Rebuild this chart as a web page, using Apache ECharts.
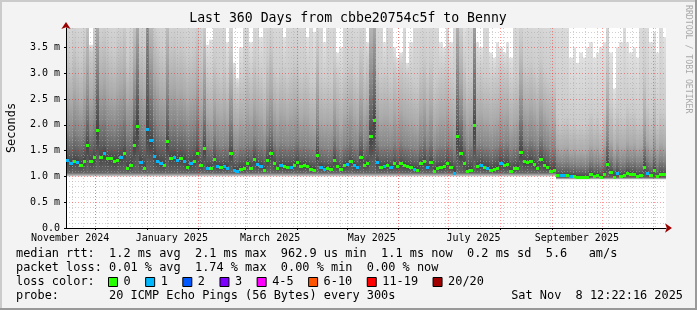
<!DOCTYPE html>
<html><head><meta charset="utf-8">
<script src="https://cdn.jsdelivr.net/npm/echarts@6/dist/echarts.min.js"></script>
<style>html,body{margin:0;padding:0;background:#f3f3f3;}#c{width:697px;height:310px;}</style>
</head><body><div id="c"></div>
<script>
// ---------- data (2-day columns, 360 days) ----------
const startTime = Date.UTC(2024, 10, 13, 12, 22, 16);
const DAY = 86400000;
const spanDays = 360;
const colDays = 2;

const median = [
1.32,1.25,1.30,1.28,1.22,1.30,1.60,1.30,1.37,1.90,
1.38,1.45,1.35,1.35,1.30,1.32,1.37,1.45,1.16,1.22,
1.60,1.97,1.28,1.16,1.92,1.70,1.40,1.30,1.25,1.22,
1.68,1.36,1.38,1.32,1.35,1.30,1.19,1.25,1.30,1.45,
1.22,1.55,1.16,1.16,1.33,1.20,1.18,1.20,1.17,1.45,
1.13,1.11,1.15,1.16,1.25,1.16,1.34,1.24,1.20,1.12,
1.32,1.45,1.26,1.16,1.22,1.20,1.18,1.19,1.23,1.27,
1.20,1.23,1.20,1.15,1.13,1.41,1.19,1.15,1.16,1.15,
1.32,1.20,1.14,1.22,1.24,1.29,1.22,1.18,1.38,1.23,
1.26,1.78,2.09,1.27,1.19,1.20,1.22,1.18,1.25,1.20,
1.25,1.22,1.20,1.18,1.15,1.13,1.25,1.30,1.19,1.28,
1.11,1.17,1.19,1.20,1.26,1.18,1.07,1.78,1.45,1.25,
1.11,1.13,2.00,1.20,1.22,1.18,1.17,1.12,1.15,1.17,
1.26,1.22,1.24,1.10,1.16,1.17,1.48,1.29,1.27,1.30,
1.24,1.16,1.34,1.22,1.18,1.10,1.12,1.03,1.02,1.02,
1.02,1.00,1.01,0.99,0.99,0.99,0.99,1.05,1.00,1.03,
0.99,1.04,1.24,1.08,0.99,1.06,1.01,1.02,1.07,1.05,
1.05,1.01,1.03,1.19,1.06,1.02,1.13,1.00,1.05,1.04];

const lossCount = [
1,1,0,1,0,0,0,0,0,0,
0,1,0,0,0,0,1,0,0,0,
0,0,1,0,1,1,1,1,1,0,
0,0,1,1,0,1,0,1,0,0,
0,0,1,0,0,1,0,1,1,0,
1,1,0,0,0,0,0,1,1,0,
0,0,0,0,1,0,0,1,0,0,
0,0,0,0,0,0,1,1,0,0,
0,0,0,0,1,0,1,1,0,0,
0,0,0,1,0,1,0,1,0,0,
0,0,0,0,1,0,0,0,1,0,
0,0,0,0,0,0,1,0,0,0,
0,0,0,0,1,0,1,0,0,0,
1,0,0,0,0,0,0,0,0,0,
0,0,0,0,0,0,0,0,1,1,
0,1,0,0,0,0,0,0,0,0,
0,0,0,0,0,1,0,0,0,0,
0,0,0,0,1,0,0,0,0,0];

const smokeMin = [
1.00,1.00,1.00,1.00,1.00,1.00,1.00,1.00,1.00,1.00,
1.00,1.00,1.00,1.00,1.00,1.00,1.00,1.00,1.00,1.00,
1.00,1.00,1.00,1.00,1.00,1.00,1.00,1.00,1.00,1.00,
1.00,1.00,1.00,1.00,1.00,1.00,1.00,1.00,1.00,1.00,
1.00,1.00,1.00,1.00,1.00,1.00,1.00,1.00,1.00,1.00,
1.00,1.00,1.00,1.00,1.00,1.00,1.00,1.00,1.00,1.00,
1.00,1.00,1.00,1.00,1.00,1.00,1.00,1.00,1.00,1.00,
1.00,1.00,1.00,1.00,1.00,1.00,1.00,1.00,1.00,1.00,
1.00,1.00,1.00,1.00,1.00,1.00,1.00,1.00,1.00,1.00,
1.00,1.00,1.00,1.00,1.00,1.00,1.00,1.00,1.00,1.00,
1.00,1.00,1.00,1.00,1.00,1.00,1.00,1.00,1.00,1.00,
1.00,1.00,1.00,1.00,1.00,1.00,1.00,1.00,1.00,1.00,
1.00,1.00,1.00,1.00,1.00,1.00,1.00,1.00,1.00,1.00,
1.00,1.00,1.00,1.00,1.00,1.00,1.00,1.00,1.00,1.00,
1.00,1.00,1.00,1.00,1.00,1.00,1.00,0.94,0.94,0.94,
0.94,0.94,0.94,0.94,0.94,0.94,0.94,0.94,0.94,0.94,
0.94,0.94,0.94,0.94,0.94,0.94,0.94,0.94,0.94,0.94,
0.94,0.94,0.94,0.94,0.94,0.94,0.94,0.94,0.94,0.94];

const smokeLow = [
1.07,1.07,1.07,1.07,1.07,1.07,1.07,1.07,1.07,1.07,
1.07,1.07,1.07,1.07,1.07,1.07,1.07,1.07,1.07,1.07,
1.07,1.07,1.07,1.07,1.07,1.07,1.07,1.07,1.07,1.07,
1.07,1.07,1.07,1.07,1.07,1.07,1.07,1.07,1.07,1.07,
1.07,1.07,1.07,1.07,1.07,1.07,1.07,1.07,1.07,1.07,
1.07,1.07,1.07,1.07,1.07,1.07,1.07,1.07,1.07,1.07,
1.07,1.07,1.07,1.07,1.07,1.07,1.07,1.07,1.07,1.07,
1.07,1.07,1.07,1.07,1.07,1.07,1.07,1.07,1.07,1.07,
1.07,1.07,1.07,1.07,1.07,1.07,1.07,1.07,1.07,1.07,
1.07,1.07,1.07,1.07,1.07,1.07,1.07,1.07,1.07,1.07,
1.07,1.07,1.07,1.07,1.07,1.07,1.07,1.07,1.07,1.07,
1.07,1.07,1.07,1.07,1.07,1.07,1.07,1.07,1.07,1.07,
1.07,1.07,1.07,1.07,1.07,1.07,1.07,1.07,1.07,1.07,
1.07,1.07,1.07,1.07,1.07,1.07,1.07,1.07,1.07,1.07,
1.07,1.07,1.07,1.07,1.07,1.07,1.07,0.98,0.98,0.98,
0.98,0.98,0.98,0.98,0.98,0.98,0.98,0.98,0.98,0.98,
0.98,0.98,0.98,0.98,0.98,0.98,0.98,0.98,0.98,0.98,
0.98,0.98,0.98,0.98,0.98,0.98,0.98,0.98,0.98,0.98];

const smoke1 = [
1.45,1.42,1.48,1.45,1.40,1.50,1.80,1.48,1.55,2.30,
1.60,1.62,1.52,1.50,1.48,1.50,1.55,1.62,1.40,1.45,
1.85,2.40,1.50,1.40,2.50,1.95,1.62,1.50,1.45,1.42,
1.90,1.55,1.55,1.50,1.52,1.48,1.40,1.42,1.48,1.62,
1.35,1.75,1.30,1.30,1.45,1.32,1.30,1.32,1.30,1.60,
1.26,1.24,1.28,1.28,1.38,1.30,1.46,1.36,1.32,1.26,
1.45,1.58,1.38,1.28,1.34,1.32,1.30,1.32,1.35,1.40,
1.30,1.32,1.30,1.26,1.24,1.60,1.28,1.25,1.26,1.25,
1.45,1.30,1.24,1.32,1.34,1.40,1.32,1.28,1.52,1.33,
1.38,2.10,2.40,1.40,1.30,1.30,1.32,1.28,1.36,1.30,
1.36,1.32,1.30,1.28,1.25,1.24,1.36,1.42,1.30,1.40,
1.22,1.28,1.30,1.30,1.38,1.30,1.22,2.00,1.70,1.40,
1.26,1.30,2.30,1.32,1.35,1.30,1.30,1.25,1.28,1.30,
1.38,1.34,1.36,1.24,1.28,1.30,1.70,1.40,1.38,1.42,
1.36,1.30,1.45,1.34,1.30,1.24,1.26,1.08,1.08,1.08,
1.08,1.06,1.07,1.05,1.05,1.05,1.05,1.12,1.07,1.10,
1.05,1.12,1.40,1.16,1.06,1.14,1.08,1.08,1.14,1.12,
1.12,1.08,1.10,1.32,1.14,1.08,1.22,1.06,1.12,1.10];

const smoke2 = [
1.90,1.80,1.95,1.85,1.80,1.95,2.40,1.90,2.05,3.10,
2.10,2.15,2.00,1.95,1.90,2.00,2.05,2.20,1.85,1.90,
2.50,3.20,2.00,1.90,3.60,2.70,2.20,2.00,1.90,1.85,
2.60,2.00,2.05,1.95,2.00,1.95,1.85,1.90,1.95,2.20,
1.75,2.30,1.65,1.60,1.85,1.65,1.60,1.65,1.60,2.10,
1.55,1.50,1.60,1.58,1.70,1.62,1.80,1.70,1.62,1.55,
1.80,2.00,1.70,1.60,1.68,1.65,1.60,1.65,1.70,1.75,
1.60,1.65,1.60,1.55,1.52,2.00,1.58,1.55,1.55,1.55,
1.80,1.60,1.52,1.62,1.65,1.75,1.62,1.58,1.90,1.65,
1.75,2.80,3.20,1.75,1.60,1.60,1.62,1.58,1.68,1.60,
1.70,1.62,1.60,1.58,1.55,1.52,1.68,1.80,1.60,1.75,
1.50,1.58,1.62,1.62,1.70,1.60,1.50,2.90,2.20,1.75,
1.55,1.62,3.30,1.62,1.65,1.60,1.60,1.55,1.58,1.60,
1.70,1.65,1.68,1.52,1.58,1.60,2.20,1.72,1.70,1.75,
1.68,1.60,1.80,1.66,1.60,1.52,1.55,1.30,1.28,1.28,
1.30,1.25,1.26,1.22,1.24,1.22,1.24,1.32,1.26,1.30,
1.24,1.32,1.75,1.38,1.25,1.35,1.28,1.28,1.36,1.32,
1.34,1.28,1.30,1.60,1.36,1.28,1.45,1.26,1.34,1.30];

const smoke3 = [
2.60,2.45,2.70,2.55,2.40,2.65,3.20,2.55,2.75,3.90,
2.80,2.90,2.70,2.60,2.55,2.70,2.80,2.95,2.50,2.60,
3.20,3.95,2.75,2.60,4.30,3.50,3.00,2.80,2.60,2.55,
3.40,2.75,2.80,2.65,2.70,2.60,2.45,2.55,2.60,2.90,
2.40,3.10,2.20,2.15,2.50,2.25,2.20,2.30,2.15,2.80,
2.05,2.00,2.15,2.10,2.35,2.20,2.45,2.30,2.20,2.05,
2.45,2.70,2.30,2.15,2.30,2.25,2.15,2.25,2.35,2.40,
2.15,2.25,2.20,2.05,2.00,2.80,2.10,2.05,2.10,2.05,
2.45,2.15,2.00,2.20,2.25,2.40,2.20,2.10,2.60,2.25,
2.40,3.60,4.00,2.40,2.15,2.20,2.20,2.10,2.30,2.15,
2.30,2.20,2.15,2.10,2.05,2.00,2.30,2.45,2.15,2.40,
2.00,2.10,2.20,2.20,2.35,2.15,2.05,3.80,2.90,2.35,
2.10,2.20,4.20,2.20,2.25,2.15,2.15,2.05,2.10,2.15,
2.30,2.25,2.30,2.00,2.10,2.15,2.90,2.35,2.30,2.40,
2.30,2.15,2.45,2.25,2.15,2.05,2.10,1.60,1.55,1.58,
1.60,1.50,1.55,1.48,1.50,1.48,1.52,1.62,1.55,1.60,
1.50,1.65,2.40,1.70,1.52,1.68,1.58,1.58,1.70,1.62,
1.66,1.56,1.60,2.10,1.70,1.58,1.85,1.55,1.66,1.60];

const smoke4 = [
3.50,3.30,3.60,3.40,3.30,3.55,4.20,3.40,3.70,4.60,
3.70,3.80,3.60,3.50,3.40,3.60,3.70,3.90,3.30,3.50,
4.10,4.80,3.60,3.50,5.00,4.40,3.90,3.70,3.50,3.40,
4.30,3.60,3.70,3.50,3.60,3.50,3.30,3.40,3.50,3.80,
3.30,3.90,3.00,2.95,3.30,3.10,3.00,3.15,2.90,3.50,
2.80,2.70,2.90,2.95,3.20,3.00,3.30,3.10,3.00,2.85,
3.30,3.60,3.10,2.95,3.10,3.05,2.95,3.10,3.20,3.25,
3.00,3.10,3.05,2.85,2.80,3.60,2.95,2.85,2.90,2.85,
3.30,3.00,2.80,3.05,3.10,3.25,3.05,2.95,3.50,3.10,
3.25,4.50,4.80,3.20,3.00,3.05,3.05,2.90,3.15,2.95,
3.15,3.05,3.00,2.90,2.85,2.80,3.15,3.30,3.00,3.25,
2.80,2.95,3.05,3.05,3.20,2.95,2.85,4.60,3.80,3.20,
2.90,3.00,5.00,3.00,3.05,2.95,2.95,2.85,2.90,2.95,
3.15,3.05,3.10,2.80,2.90,2.95,3.70,3.20,3.10,3.25,
3.10,2.95,3.30,3.05,2.95,2.85,2.90,2.20,2.10,2.15,
2.20,2.05,2.10,2.00,2.05,2.00,2.10,2.25,2.10,2.20,
2.05,2.30,3.30,2.40,2.10,2.35,2.20,2.20,2.40,2.25,
2.30,2.15,2.20,3.00,2.40,2.20,2.60,2.10,2.30,2.25];

const smokeMax = [
4.50,4.50,4.50,4.50,4.50,4.50,4.50,3.55,4.50,4.50,
4.50,4.50,4.50,4.50,4.50,4.50,4.50,4.50,4.50,4.50,
4.50,4.50,4.50,4.50,4.50,4.50,4.50,4.50,4.50,4.50,
4.50,4.50,4.50,4.50,4.50,4.50,4.50,4.50,4.50,4.50,
4.50,4.50,3.55,3.65,4.50,4.50,4.50,4.50,3.60,4.50,
3.20,2.90,3.50,4.50,4.50,3.60,4.50,4.50,3.70,4.50,
4.50,4.50,4.50,4.50,4.50,3.70,4.50,4.50,4.50,4.50,
4.50,4.50,3.70,4.50,3.80,4.50,4.50,3.60,4.50,4.50,
4.50,3.40,3.50,4.50,4.50,4.50,4.50,4.50,4.50,4.50,
3.60,4.50,4.50,4.50,4.50,3.60,4.50,4.50,3.50,3.30,
3.40,4.50,3.20,3.60,4.50,4.50,4.50,4.50,4.50,4.50,
4.50,4.50,3.60,3.50,4.50,3.60,4.50,4.50,4.50,3.90,
4.50,4.50,4.50,3.60,3.50,4.50,4.50,3.40,3.30,3.60,
3.50,3.40,3.60,3.30,4.50,4.50,4.50,4.50,4.50,4.50,
4.50,4.50,4.50,4.50,4.50,4.50,4.50,4.50,4.50,4.50,
4.50,3.30,3.50,3.20,3.40,3.30,3.50,3.60,3.30,3.40,
3.50,3.60,4.50,3.40,2.70,3.50,3.60,4.50,3.60,3.40,
3.50,3.30,4.50,4.50,4.50,3.60,3.80,3.40,4.50,3.70];

// axis / legend texts
const yTickValues = [0, 0.5, 1.0, 1.5, 2.0, 2.5, 3.0, 3.5];
const monthStarts = ['2024-12-01','2025-01-01','2025-02-01','2025-03-01','2025-04-01','2025-05-01',
  '2025-06-01','2025-07-01','2025-08-01','2025-09-01','2025-10-01','2025-11-01'];
const monthLabelDates = ['2024-11-16','2025-01-16','2025-03-16','2025-05-16','2025-07-16','2025-09-16'];
const monthLabels = ['November 2024','January 2025','March 2025','May 2025','July 2025','September 2025'];
const titleText = 'Last 360 Days from cbbe20754c5f to Benny';
const rttLine = 'median rtt:  1.2 ms avg  2.1 ms max  962.9 us min  1.1 ms now  0.2 ms sd  5.6   am/s';
const lossLine = 'packet loss: 0.01 % avg  1.74 % max  0.00 % min  0.00 % now';
const lossLabels = ['0','1','2','3','4-5','6-10','11-19','20/20'];
const lossColors = ['#26ff00','#00b8ff','#0059ff','#7e00ff','#ff00ff','#ff5500','#ff0000','#a10000'];
const probeLine = 'probe:       20 ICMP Echo Pings (56 Bytes) every 300s';
const dateText = 'Sat Nov  8 12:22:16 2025';

// ---------- chart ----------
const FONT = '"DejaVu Sans Mono", monospace';
const endTime = startTime + spanDays * DAY;
const monthStartTimes = monthStarts.map(s => Date.parse(s + 'T00:00:00Z'));
const labelTimes = monthLabelDates.map(s => Date.parse(s + 'T00:00:00Z'));
const weekTimes = [];
for (let t = Date.UTC(2024, 10, 17); t < endTime; t += 7 * DAY) weekTimes.push(t);
const minorY = [];
for (let k = 1; k <= 38; k++) if (k % 5) minorY.push(k / 10);

const rows = median.map((m, i) => [startTime + i * colDays * DAY, smokeMin[i], smokeLow[i],
  smoke1[i], smoke2[i], smoke3[i], smoke4[i], smokeMax[i], m, lossCount[i]]);

// gradient stops: [dimension, colour], from top (max) to bottom (min)
const smokeStops = [[7, '#e0e0e0'], [6, '#cbcbcb'], [5, '#ababab'], [4, '#868686'], [3, '#5c5c5c'],
  [8, '#444444'], [2, '#666666'], [1, '#d6d6d6']];

function colX(api) {
  const t0 = api.value(0);
  const xL = Math.round(api.coord([t0, 0])[0]);
  const xR = Math.round(api.coord([t0 + colDays * DAY, 0])[0]);
  return [t0, xL, xR - xL];
}
function renderSmoke(params, api) {
  const [t0, xL, w] = colX(api);
  const ys = smokeStops.map(([d]) => api.coord([t0, api.value(d)])[1]);
  const yTop = ys[0], yBot = ys[ys.length - 1], h = yBot - yTop;
  const colorStops = smokeStops.map(([d, c], k) => ({ offset: Math.min(1, Math.max(0, (ys[k] - yTop) / h)), color: c }));
  return {
    type: 'rect', shape: { x: xL, y: yTop, width: w, height: h },
    style: { fill: { type: 'linear', x: 0, y: 0, x2: 0, y2: 1, colorStops } }
  };
}
function renderMedian(params, api) {
  const [t0, xL, w] = colX(api);
  const ym = Math.round(api.coord([t0, api.value(8)])[1]);
  return { type: 'rect', shape: { x: xL, y: ym - 1, width: w, height: 3 },
    style: { fill: lossColors[api.value(9)] } };
}

const graphics = [
  { type: 'rect', z: 100, shape: { x: 0, y: 0, width: 697, height: 2 }, style: { fill: '#cbcbcb' } },
  { type: 'rect', z: 100, shape: { x: 0, y: 0, width: 2, height: 310 }, style: { fill: '#cbcbcb' } },
  { type: 'rect', z: 100, shape: { x: 0, y: 308, width: 697, height: 2 }, style: { fill: '#999999' } },
  { type: 'rect', z: 100, shape: { x: 695, y: 0, width: 2, height: 310 }, style: { fill: '#999999' } },
  { type: 'text', x: 348, y: 19, style: { text: titleText, font: '13.2px ' + FONT, fill: '#000', align: 'center', verticalAlign: 'middle' } },
  { type: 'text', x: 12, y: 128, rotation: Math.PI / 2, style: { text: 'Seconds', font: '11.9px ' + FONT, fill: '#000', align: 'center', verticalAlign: 'middle' } },
  { type: 'text', x: 688, y: 5, rotation: -Math.PI / 2, style: { text: 'RRDTOOL / TOBI OETIKER', font: '8.2px ' + FONT, fill: '#a8a8a8', align: 'left', verticalAlign: 'middle' } },
  { type: 'text', x: 16, y: 254, style: { text: rttLine, font: '11.9px ' + FONT, fill: '#000', verticalAlign: 'middle' } },
  { type: 'text', x: 16, y: 268, style: { text: lossLine, font: '11.9px ' + FONT, fill: '#000', verticalAlign: 'middle' } },
  { type: 'text', x: 16, y: 282, style: { text: 'loss color:', font: '11.9px ' + FONT, fill: '#000', verticalAlign: 'middle' } },
  { type: 'text', x: 16, y: 296, style: { text: probeLine, font: '11.9px ' + FONT, fill: '#000', verticalAlign: 'middle' } },
  { type: 'text', x: 683, y: 296, style: { text: dateText, font: '11.9px ' + FONT, fill: '#000', align: 'right', verticalAlign: 'middle' } }
];
let lx = 108.5;
const CH = 7.16;
lossLabels.forEach((lab, i) => {
  graphics.push({ type: 'rect', shape: { x: lx, y: 277.5, width: 9, height: 9 }, style: { fill: lossColors[i], stroke: '#000', lineWidth: 1 } });
  graphics.push({ type: 'text', x: lx + 15, y: 282, style: { text: lab, font: '11.9px ' + FONT, fill: '#000', verticalAlign: 'middle' } });
  lx = lx + 15 + lab.length * CH + 15;
});

const arrowAxis = { show: true, lineStyle: { color: '#9b0000', width: 0 }, symbol: ['none', 'arrow'], symbolSize: [7, 7], symbolOffset: [0, 6] };
const hiddenParts = { axisLabel: { show: false }, axisTick: { show: false }, splitLine: { show: false } };

const chart = echarts.init(document.getElementById('c'), null, { renderer: 'canvas' });
chart.setOption({
  animation: false,
  backgroundColor: '#f3f3f3',
  grid: { left: 66, right: 31, top: 28, bottom: 82, show: true, backgroundColor: '#ffffff', borderWidth: 0 },
  xAxis: [{
    type: 'value', position: 'bottom', min: startTime, max: endTime, z: 4,
    axisLine: { show: true, lineStyle: { color: '#000', width: 1 } },
    axisTick: { show: true, customValues: monthStartTimes, length: 2, lineStyle: { color: '#000' } },
    axisLabel: { customValues: labelTimes, formatter: v => monthLabels[labelTimes.indexOf(v)] || '', fontFamily: FONT, fontSize: 10, color: '#000', margin: 5 },
    splitLine: { show: true, lineStyle: { color: 'rgba(255,0,0,0.4)', width: 1, type: [1, 2] } }
  }, {
    type: 'value', position: 'bottom', min: startTime, max: endTime, z: 3,
    axisLine: { show: false }, axisLabel: { show: false },
    axisTick: { show: false, customValues: weekTimes },
    splitLine: { show: true, lineStyle: { color: 'rgba(170,170,170,0.55)', width: 1, type: [1, 2] } }
  }, Object.assign({ type: 'value', position: 'bottom', offset: 0, min: startTime, max: endTime, z: 5, axisLine: arrowAxis }, hiddenParts)],
  yAxis: [{
    type: 'value', position: 'left', min: 0, max: 3.875, z: 4,
    axisLine: { show: true, lineStyle: { color: '#000', width: 1 } },
    axisTick: { show: true, customValues: yTickValues, length: 2, lineStyle: { color: '#000' } },
    axisLabel: { customValues: yTickValues, formatter: v => v === 0 ? '0.0' : v.toFixed(1) + ' m', fontFamily: FONT, fontSize: 10, color: '#000', margin: 6 },
    splitLine: { show: true, lineStyle: { color: 'rgba(255,0,0,0.4)', width: 1, type: [1, 2] } }
  }, {
    type: 'value', position: 'left', min: 0, max: 3.875, z: 3,
    axisLine: { show: false }, axisLabel: { show: false },
    axisTick: { show: false, customValues: minorY },
    splitLine: { show: true, lineStyle: { color: 'rgba(170,170,170,0.55)', width: 1, type: [1, 2] } }
  }, Object.assign({ type: 'value', position: 'left', offset: 0, min: 0, max: 3.875, z: 5, axisLine: arrowAxis }, hiddenParts)],
  series: [
    { type: 'custom', name: 'smoke', xAxisIndex: 0, yAxisIndex: 0, clip: true, z: 2, data: rows,
      encode: { x: 0, y: 8 }, renderItem: renderSmoke },
    { type: 'custom', name: 'median', xAxisIndex: 0, yAxisIndex: 0, clip: true, z: 6, data: rows,
      encode: { x: 0, y: 8 }, renderItem: renderMedian }
  ],
  graphic: graphics
});
</script>
</body></html>
